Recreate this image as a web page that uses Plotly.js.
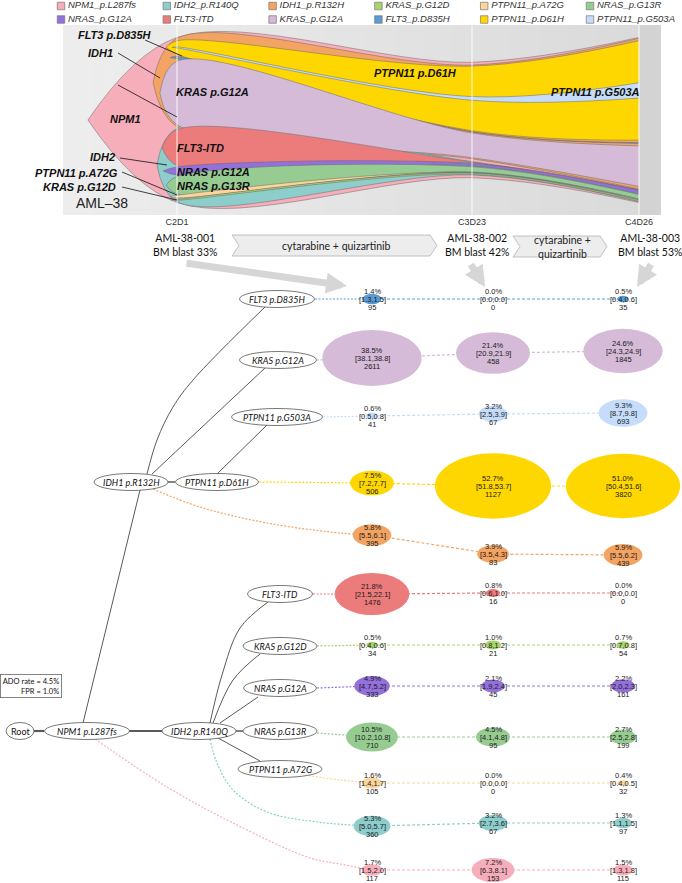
<!DOCTYPE html>
<html>
<head>
<meta charset="utf-8">
<script src="https://cdn.plot.ly/plotly-3.0.1.min.js"></script>
<style>
  html, body { margin: 0; padding: 0; background: #fff; }
  #graph { width: 682px; height: 883px; }
</style>
</head>
<body>
<div id="graph"></div>
<script>
// ---- data ----
var clones = ['NPM1_p.L287fs', 'NRAS_p.G12A', 'IDH2_p.R140Q', 'FLT3-ITD', 'IDH1_p.R132H', 'KRAS_p.G12A',
              'KRAS_p.G12D', 'FLT3_p.D835H', 'PTPN11_p.A72G', 'PTPN11_p.D61H', 'NRAS_p.G13R', 'PTPN11_p.G503A'];
var treeLabels = ['NPM1 p.L287fs', 'NRAS p.G12A', 'IDH2 p.R140Q', 'FLT3-ITD', 'IDH1 p.R132H', 'KRAS p.G12A',
                  'KRAS p.G12D', 'FLT3 p.D835H', 'PTPN11 p.A72G', 'PTPN11 p.D61H', 'NRAS p.G13R', 'PTPN11 p.G503A'];
var parents = [-1, 2, 0, 2, 0, 4, 2, 4, 2, 4, 2, 9];
var colors = ['#f7aebb', '#9370db', '#8dcdcb', '#ec7b7b', '#f3a462', '#d5bbd8',
              '#a8d46f', '#5a9bd3', '#fcd59c', '#ffd700', '#96cc91', '#c5ddfb'];

var samples = ['AML-38-001', 'AML-38-002', 'AML-38-003'];
var timepoints = ['C2D1', 'C3D23', 'C4D26'];
var blast = [33, 42, 53];
var treatments = ['cytarabine + quizartinib', 'cytarabine +<br>quizartinib'];

// clone fraction (%) per sample, with CI and cell count
var pct = [[1.7, 7.2, 1.5], [4.9, 2.1, 2.2], [5.3, 3.2, 1.3], [21.8, 0.8, 0.0], [5.8, 3.9, 5.9], [38.5, 21.4, 24.6],
           [0.5, 1.0, 0.7], [1.4, 0.0, 0.5], [1.6, 0.0, 0.4], [7.5, 52.7, 51.0], [10.5, 4.5, 2.7], [0.6, 3.2, 9.3]];
var ciLow = [[1.5, 6.3, 1.3], [4.7, 1.9, 2.0], [5.0, 2.7, 1.1], [21.5, 0.6, 0.0], [5.5, 3.5, 5.5], [38.1, 20.9, 24.3],
             [0.4, 0.8, 0.7], [1.3, 0.0, 0.4], [1.4, 0.0, 0.4], [7.2, 51.8, 50.4], [10.2, 4.1, 2.5], [0.5, 2.5, 8.7]];
var ciHigh = [[2.0, 8.1, 1.8], [5.2, 2.4, 2.3], [5.7, 3.6, 1.5], [22.1, 1.0, 0.0], [6.1, 4.3, 6.2], [38.8, 21.9, 24.9],
              [0.6, 1.2, 0.8], [1.5, 0.0, 0.6], [1.7, 0.0, 0.5], [7.7, 53.7, 51.6], [10.8, 4.8, 2.8], [0.8, 3.9, 9.8]];
var cellCount = [[117, 153, 115], [333, 45, 161], [360, 67, 97], [1476, 16, 0], [395, 83, 439], [2611, 458, 1845],
                 [34, 21, 54], [95, 0, 35], [105, 0, 32], [506, 1127, 3820], [710, 95, 199], [41, 67, 693]];

// fish plot: relative size at each time point, time positions, where each clone emerges
var fishScale = [1.0, 0.70, 1.0];
var timeX = [0, 100, 156.6];
var emergeX = [-30.2, -4.7, -6.8, -5.1, -8.1, -5.8, -2.0, -2.4, -2.4, -3.7, -3.7, -1.7];
var fishOrder = [4, 2, 9, 7, 5, 11, 3, 1, 10, 8, 6];

var adoRate = 4.5, fpr = 1.0;

// ---- page layout (pixels) ----
var colX = [372, 493, 623];
var rowY = [[870, 870, 870], [686, 686, 686], [826, 823, 823], [594, 593, 593], [535, 554, 555], [358, 353, 351],
            [645, 645, 645], [299, 299, 299], [783, 783, 783], [483, 486, 486], [737, 737, 737], [416, 414, 413]];
var labelPos = [[87, 731, 85], [280, 688, 73], [199, 731, 74], [280, 594, 65], [131, 482, 74], [278, 360, 77],
                [280, 646, 74], [277, 299, 75], [280, 769, 84], [217, 482, 83], [280, 731, 74], [277, 417, 91]];
var leadPath = [
  [[95, 739], [167, 787], [233, 823], [310, 858], [340, 864], [372, 870]],
  [[317, 688], [372, 686]],
  [[210, 739], [217, 763], [233, 790], [267, 812], [317, 822], [372, 826]],
  [[313, 594], [372, 594]],
  [[153, 489], [200, 507], [267, 523], [340, 533], [372, 535]],
  [[317, 360], [372, 358]],
  [[317, 646], [372, 645]],
  [[315, 299], [372, 299]],
  [[305, 775], [340, 780], [372, 783]],
  [[259, 482], [372, 483]],
  [[317, 733], [372, 737]],
  [[323, 417], [372, 416]]
];
var edges = [
  [[[34, 731], [44, 731]], 2.2], [[[129, 731], [162, 731]], 2.2],
  [[[83, 723], [140, 490]], 1], [[[168, 482], [175, 482]], 1.5],
  [[[152, 474], [265, 368]], 1],
  [[[147, 474], [157, 440], [173, 407], [193, 380], [265, 307]], 1],
  [[[217, 474], [267, 425]], 1],
  [[[210, 723], [222, 675], [240, 628], [268, 602]], 1],
  [[[213, 723], [233, 680], [260, 654]], 1],
  [[[220, 723], [258, 697]], 1], [[[236, 731], [243, 731]], 1.5],
  [[[218, 738], [260, 761]], 1]
];

var traces = [], shapes = [], annotations = [];
var txtFont = 'Liberation Sans, Arial, sans-serif';
var calFont = 'Lato, Liberation Sans, sans-serif';

function lineTrace(pts, color, width, dash, spline, ax) {
  return {
    x: pts.map(function (p) { return p[0]; }), y: pts.map(function (p) { return p[1]; }),
    mode: 'lines', line: {color: color, width: width, dash: dash || 'solid', shape: spline ? 'spline' : 'linear'},
    hoverinfo: 'skip', showlegend: false, xaxis: ax ? 'x2' : 'x', yaxis: ax ? 'y2' : 'y'
  };
}
function txt(x, y, text, size, extra) {
  var a = {x: x, y: y, xref: 'x', yref: 'y', text: text, showarrow: false,
           font: {family: txtFont, size: size, color: '#1a1a1a'}};
  for (var k in extra) a[k] = extra[k];
  annotations.push(a);
}

// ---- gray background of the fish panel ----
var panelL = 63, panelR = 661, panelT = 25, panelB = 215;
var nStrip = 40;
for (var s = 0; s < nStrip; s++) {
  var xa = panelL + (639 - panelL) * s / nStrip, xb = panelL + (639 - panelL) * (s + 1) / nStrip;
  var g = Math.round(237 - 19 * (s / nStrip));
  shapes.push({type: 'rect', xref: 'x', yref: 'y', x0: xa, x1: xb + 0.5, y0: panelT, y1: panelB, layer: 'below',
               fillcolor: 'rgb(' + g + ',' + g + ',' + g + ')', line: {width: 0}});
}
shapes.push({type: 'rect', xref: 'x', yref: 'y', x0: 639, x1: panelR, y0: panelT, y1: panelB, layer: 'below',
             fillcolor: '#d3d3d3', line: {width: 0}});

// ---- fish plot ----
function kids(i) { return fishOrder.filter(function (k) { return parents[k] === i; }); }
function total(i, t) { var s = pct[i][t]; kids(i).forEach(function (k) { s += total(k, t); }); return s; }
function place(i, t, top, out) {
  out[i] = [top - total(i, t) * fishScale[t], top];
  var ks = kids(i), gap = pct[i][t] * fishScale[t] / (ks.length + 1), y = top - gap;
  ks.forEach(function (k) { place(k, t, y, out); y -= total(k, t) * fishScale[t] + gap; });
}
var bands = timeX.map(function (tx, t) { var out = {}; place(0, t, total(0, t) * fishScale[t] / 2, out); return out; });
var drawOrder = [0], q = 0;
while (q < drawOrder.length) { drawOrder = drawOrder.concat(kids(drawOrder[q])); q++; }
drawOrder.forEach(function (i) {
  var c = (bands[0][i][0] + bands[0][i][1]) / 2;
  var xs = [emergeX[i]].concat(timeX);
  var lo = [c].concat(bands.map(function (b) { return b[i][0]; }));
  var hi = [c].concat(bands.map(function (b) { return b[i][1]; }));
  var ol = {color: 'rgba(105,105,105,0.85)', width: 0.6, shape: 'spline', smoothing: 1};
  traces.push({x: xs, y: lo, xaxis: 'x2', yaxis: 'y2', mode: 'lines', line: ol, hoverinfo: 'skip', showlegend: false});
  traces.push({x: xs, y: hi, xaxis: 'x2', yaxis: 'y2', mode: 'lines', line: ol, fill: 'tonexty',
               fillcolor: colors[i], hoverinfo: 'skip', showlegend: false, name: clones[i]});
});
[177, 472, 639].forEach(function (x) {
  shapes.push({type: 'line', xref: 'x', yref: 'y', x0: x, x1: x, y0: panelT, y1: panelB, layer: 'above',
               line: {color: 'rgba(255,255,255,0.6)', width: 1.5}});
});

// fish labels and leaders
var fishLabels = [
  ['FLT3 p.D835H', 115, 35, 'center'], ['IDH1', 100, 53, 'center'], ['NPM1', 125, 119, 'center'],
  ['KRAS p.G12A', 212, 92, 'center'], ['FLT3-ITD', 200, 148, 'center'], ['IDH2', 102, 157, 'center'],
  ['NRAS p.G12A', 213, 172, 'center'], ['NRAS p.G13R', 213, 186, 'center'],
  ['PTPN11 p.A72G', 120, 173, 'right'], ['KRAS p.G12D', 118, 187, 'right'],
  ['PTPN11 p.D61H', 415, 73, 'center'], ['PTPN11 p.G503A', 595, 92, 'center']
];
fishLabels.forEach(function (f) {
  txt(f[1], f[2], '<b><i>' + f[0] + '</i></b>', 11, {xanchor: f[3], font: {family: txtFont, size: 11, color: '#111'}});
});
txt(102, 203, 'AML\u201338', 14, {font: {family: txtFont, size: 14, color: '#222'}});
[[[145, 40], [182, 56]], [[118, 53], [160, 78]], [[118, 85], [177, 117]], [[120, 158], [167, 165]],
 [[122, 172], [177, 195]], [[122, 187], [177, 200]]].forEach(function (l) {
  shapes.push({type: 'line', xref: 'x', yref: 'y', x0: l[0][0], y0: l[0][1], x1: l[1][0], y1: l[1][1],
               layer: 'above', line: {color: '#111', width: 0.8}});
});

// ---- legend ----
var legX = [], legY = [];
clones.forEach(function (c, i) { legX.push(61 + Math.floor(i / 2) * 105.8); legY.push(6 + (i % 2) * 13.5); });
traces.push({x: legX, y: legY, xaxis: 'x', yaxis: 'y', mode: 'markers', hoverinfo: 'skip', showlegend: false,
             marker: {symbol: 'square', size: 7.5, color: colors, line: {color: '#777', width: 0.7}}});
traces.push({x: legX.map(function (x) { return x + 7; }), y: legY, xaxis: 'x', yaxis: 'y', mode: 'text',
             text: clones.map(function (c) { return '<i>' + c + '</i>'; }), textposition: 'middle right',
             textfont: {family: txtFont, size: 9.5, color: '#333'}, hoverinfo: 'skip', showlegend: false});

// ---- sample headers, treatment chevrons, arrows ----
var sampleX = [185, 477, 650];
samples.forEach(function (sm, t) {
  txt(sampleX[t], 245, sm + '<br>BM blast ' + blast[t] + '%', 10.5, {font: {family: calFont, size: 10.5, color: '#111'}});
});
var chevrons = [[232, 437, 235, 256], [513, 607, 236, 257]];
chevrons.forEach(function (c, k) {
  var m = (c[2] + c[3]) / 2, d = 7;
  shapes.push({type: 'path', xref: 'x', yref: 'y', layer: 'below', fillcolor: '#ededed',
               line: {color: '#b3b3b3', width: 0.8},
               path: 'M' + c[0] + ',' + c[2] + ' L' + (c[1] - d) + ',' + c[2] + ' L' + c[1] + ',' + m + ' L' + (c[1] - d) + ',' + c[3] +
                     ' L' + c[0] + ',' + c[3] + ' L' + (c[0] + d) + ',' + m + ' Z'});
  txt((c[0] + c[1]) / 2 + 2, m, treatments[k], 10.5, {font: {family: calFont, size: 10.5, color: '#222'}});
});
[[185, 263, 347, 286], [470, 263, 485, 287], [652, 263, 637, 287]].forEach(function (a) {
  annotations.push({x: a[2], y: a[3], ax: a[0], ay: a[1], xref: 'x', yref: 'y', axref: 'x', ayref: 'y',
                    text: '', showarrow: true, arrowhead: 2, arrowsize: 0.6, arrowwidth: 7, arrowcolor: '#d6d6d6', standoff: 0});
});

// ---- tree edges ----
edges.forEach(function (e) { traces.push(lineTrace(e[0], '#5a5a5a', e[1], 'solid', e[0].length > 2)); });

// ---- dashed clone rows ----
clones.forEach(function (c, i) {
  traces.push(lineTrace(leadPath[i], colors[i], 1.2, '2px,1.6px', leadPath[i].length > 2));
  traces.push(lineTrace(colX.map(function (x, t) { return [x, rowY[i][t]]; }), colors[i], 1.2, '3px,2px', false));
});

// ---- tree node labels ----
function nodeLabel(x, y, w, text, italic) {
  shapes.push({type: 'circle', xref: 'x', yref: 'y', x0: x - w / 2, x1: x + w / 2, y0: y - 8.5, y1: y + 8.5,
               fillcolor: '#fff', line: {color: '#555', width: 0.8}, layer: 'above'});
  txt(x, y, italic ? '<i>' + text + '</i>' : text, 9, {font: {family: calFont, size: 9, color: '#111'}});
}
nodeLabel(20, 731, 28, 'Root', false);
treeLabels.forEach(function (l, i) { nodeLabel(labelPos[i][0], labelPos[i][1], labelPos[i][2], l, true); });

// ---- clone fraction ellipses with their numbers ----
clones.forEach(function (c, i) {
  pct[i].forEach(function (p, t) {
    var cx = colX[t], cy = rowY[i][t];
    if (p > 0) {
      var w = 16 * Math.sqrt(p), h = 9 * Math.sqrt(p);
      shapes.push({type: 'circle', xref: 'x', yref: 'y', x0: cx - w / 2, x1: cx + w / 2, y0: cy - h / 2, y1: cy + h / 2,
                   fillcolor: colors[i], line: {width: 0}, layer: 'above'});
    }
    txt(cx, cy - 8, p.toFixed(1) + '%', 7.5);
    txt(cx, cy, '[' + ciLow[i][t].toFixed(1) + ',' + ciHigh[i][t].toFixed(1) + ']', 7.5);
    txt(cx, cy + 8, String(cellCount[i][t]), 7.5);
  });
});

// ---- ADO / FPR box ----
txt(62, 686, 'ADO rate = ' + adoRate.toFixed(1) + '%<br>FPR = ' + fpr.toFixed(1) + '%', 7.5,
    {xanchor: 'right', align: 'right', bordercolor: '#666', borderwidth: 0.8, borderpad: 2,
     font: {family: calFont, size: 7.5, color: '#111'}});

var yc = 120, ppu = 1.65, ppx = 2.95;
var layout = {
  width: 682, height: 883, margin: {l: 0, r: 0, t: 0, b: 0},
  paper_bgcolor: '#fff', plot_bgcolor: 'rgba(0,0,0,0)', showlegend: false,
  xaxis: {domain: [0, 1], range: [0, 682], visible: false, fixedrange: true},
  yaxis: {domain: [0, 1], range: [883, 0], visible: false, fixedrange: true},
  xaxis2: {domain: [panelL / 682, panelR / 682], range: [(panelL - 177) / ppx, (panelR - 177) / ppx], anchor: 'y2',
           tickvals: timeX, ticktext: timepoints, ticks: '', showgrid: false, zeroline: false, showline: false,
           tickfont: {family: txtFont, size: 9, color: '#333'}, fixedrange: true},
  yaxis2: {domain: [1 - panelB / 883, 1 - panelT / 883], range: [-(panelB - yc) / ppu, (yc - panelT) / ppu], anchor: 'x2',
           visible: false, fixedrange: true},
  shapes: shapes, annotations: annotations
};
Plotly.newPlot('graph', traces, layout, {displayModeBar: false, staticPlot: true});
</script>
</body>
</html>
